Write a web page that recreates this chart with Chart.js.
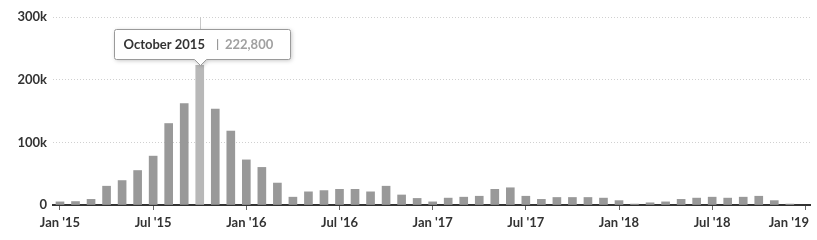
<!DOCTYPE html>
<html>
<head>
<meta charset="utf-8">
<title>Monthly arrivals</title>
<script src="https://cdn.jsdelivr.net/npm/chart.js@4.4.0/dist/chart.umd.min.js"></script>
<style>
  html, body { margin: 0; padding: 0; background: #fff; }
  .chart-box { position: relative; width: 817px; height: 240px; }
</style>
</head>
<body>
<div class="chart-box"><canvas id="myChart"></canvas></div>
<script>

var monthNames = ["January", "February", "March", "April", "May", "June",
  "July", "August", "September", "October", "November", "December"];
var years = [2015, 2016, 2017, 2018];

var values2015 = [5000, 5500, 9000, 30000, 39000, 55000, 78000, 130000, 162000, 222800, 153000, 118000];
var values2016 = [72000, 60000, 35000, 12500, 21000, 23000, 25000, 25000, 21000, 30000, 16000, 10500];
var values2017 = [5000, 11000, 12500, 14000, 25000, 27500, 14000, 9000, 12000, 12000, 12000, 11000];
var values2018 = [7000, 1500, 3500, 5000, 9000, 11000, 12500, 11000, 12500, 14000, 7000, 1500];

var tickMonths = [0, 6, 12, 18, 24, 30, 36, 42, 48];
var tickLabels = ["Jan '15", "Jul '15", "Jan '16", "Jul '16", "Jan '17", "Jul '17", "Jan '18", "Jul '18", "Jan '19"];

var yTicks = [0, 100000, 200000, 300000];
var yTickLabels = ["0", "100k", "200k", "300k"];

var activeIndex = 9;

var labelFont = { family: "Lato", size: 13, weight: "bold" };
var labelColor = "#333";

function buildCategories() {
  var cats = [];
  for (var y = 0; y < years.length; y++) {
    for (var m = 0; m < monthNames.length; m++) {
      cats.push(monthNames[m] + " " + years[y]);
    }
  }
  return cats;
}

var categories = buildCategories();
var allValues = values2015.concat(values2016, values2017, values2018);

// tooltip drawn by hand so the title and the value get their own colours
var tooltipPlugin = {
  id: "fixedTooltip",
  afterDraw: function(chart) {
    var ctx = chart.ctx;
    var area = chart.chartArea;
    var bar = chart.getDatasetMeta(0).data[activeIndex];
    var title = categories[activeIndex];
    var value = allValues[activeIndex].toLocaleString("en-US");

    ctx.save();

    // crosshair
    var lx = Math.round(bar.x) + 0.5;
    ctx.strokeStyle = "#c8c8c8";
    ctx.lineWidth = 1;
    ctx.beginPath();
    ctx.moveTo(lx, area.top);
    ctx.lineTo(lx, bar.y);
    ctx.stroke();

    ctx.font = "bold 13px Lato";
    var titleW = ctx.measureText(title).width;
    var valueW = ctx.measureText(value).width;
    var boxW = Math.round(9 + titleW + 20 + valueW + 17);
    var boxH = 30;
    var caret = 6;
    var left = Math.round(bar.x - boxW / 2 + 2) + 0.5;
    var bottom = Math.round(bar.y - caret) + 0.5;
    var top = bottom - boxH;
    var right = left + boxW;
    var r = 2;

    ctx.beginPath();
    ctx.moveTo(left + r, top);
    ctx.lineTo(right - r, top);
    ctx.quadraticCurveTo(right, top, right, top + r);
    ctx.lineTo(right, bottom - r);
    ctx.quadraticCurveTo(right, bottom, right - r, bottom);
    ctx.lineTo(lx + caret, bottom);
    ctx.lineTo(lx, bottom + caret);
    ctx.lineTo(lx - caret, bottom);
    ctx.lineTo(left + r, bottom);
    ctx.quadraticCurveTo(left, bottom, left, bottom - r);
    ctx.lineTo(left, top + r);
    ctx.quadraticCurveTo(left, top, left + r, top);
    ctx.closePath();

    ctx.shadowColor = "rgba(0,0,0,0.25)";
    ctx.shadowBlur = 4;
    ctx.shadowOffsetX = 1;
    ctx.shadowOffsetY = 1;
    ctx.fillStyle = "#fff";
    ctx.fill();
    ctx.shadowColor = "transparent";
    ctx.strokeStyle = "#9a9a9a";
    ctx.stroke();

    var ty = top + boxH / 2;
    var tx = left + 9;
    ctx.textBaseline = "middle";
    ctx.textAlign = "left";
    ctx.fillStyle = "#333";
    ctx.fillText(title, tx, ty);

    tx += titleW + 11;
    ctx.font = "bold 12px Lato";
    ctx.fillStyle = "#999";
    ctx.fillText("|", tx, ty);

    tx += 9;
    ctx.font = "bold 13px Lato";
    ctx.fillStyle = "#a0a0a0";
    ctx.fillText(value, tx, ty);

    // last x label pulled inside the canvas
    var xs = chart.scales.x;
    var last = tickMonths.length - 1;
    var px = xs.getPixelForValue(tickMonths[last]);
    var text = tickLabels[last];
    var w = ctx.measureText(text).width;
    var cx = Math.min(px, chart.width - 8 - w / 2);
    ctx.textAlign = "center";
    ctx.fillStyle = labelColor;
    ctx.fillText(text, cx, xs.top + 5 + 5 + labelFont.size * 1.2 / 2);

    ctx.restore();
  }
};

function barColors() {
  var cols = [];
  for (var i = 0; i < allValues.length; i++) {
    cols.push(i === activeIndex ? "#b8b8b8" : "#999999");
  }
  return cols;
}

function printBarChart() {

  var points = [];
  for (var i = 0; i < allValues.length; i++) {
    points.push({ x: i, y: allValues[i] });
  }

  var ctx = document.getElementById("myChart").getContext("2d");
  var chart = new Chart(ctx, {
    type: "bar",
    data: {
      datasets: [{
        label: "Arrivals",
        data: points,
        backgroundColor: barColors(),
        barThickness: 8
      }]
    },
    options: {
      responsive: true,
      maintainAspectRatio: false,
      animation: false,
      events: [],
      layout: { padding: { top: 17, right: 7, bottom: 0, left: 0 } },
      plugins: {
        legend: { display: false },
        tooltip: { enabled: false }
      },
      scales: {
        x: {
          type: "linear",
          min: -0.45,
          max: 48.3,
          offset: false,
          afterBuildTicks: function(scale) {
            scale.ticks = tickMonths.map(function(m) { return { value: m }; });
          },
          afterFit: function(scale) {
            scale.height = 35;
            scale.paddingLeft = 0;
            scale.paddingRight = 0;
          },
          ticks: {
            autoSkip: false,
            maxRotation: 0,
            padding: 5,
            font: labelFont,
            color: labelColor,
            callback: function(v) {
              var i = tickMonths.indexOf(v);
              if (i === tickLabels.length - 1) {
                return "";
              }
              return tickLabels[i];
            }
          },
          grid: { offset: false, drawOnChartArea: false, drawTicks: true, tickLength: 5, color: "#666" },
          border: { display: true, color: "#333", width: 2 }
        },
        y: {
          min: 0,
          max: 300000,
          afterBuildTicks: function(scale) {
            scale.ticks = yTicks.map(function(v) { return { value: v }; });
          },
          afterFit: function(scale) {
            scale.width = 53;
            scale.paddingTop = 0;
            scale.paddingBottom = 0;
          },
          ticks: {
            padding: 6,
            font: labelFont,
            color: labelColor,
            callback: function(v) {
              return yTickLabels[yTicks.indexOf(v)];
            }
          },
          grid: { drawTicks: false, color: "#d0d0d0" },
          border: { display: false, dash: [1, 2] }
        }
      }
    },
    plugins: [tooltipPlugin]
  });
}

function init() {
  printBarChart();
}

init();
</script>
</body>
</html>
